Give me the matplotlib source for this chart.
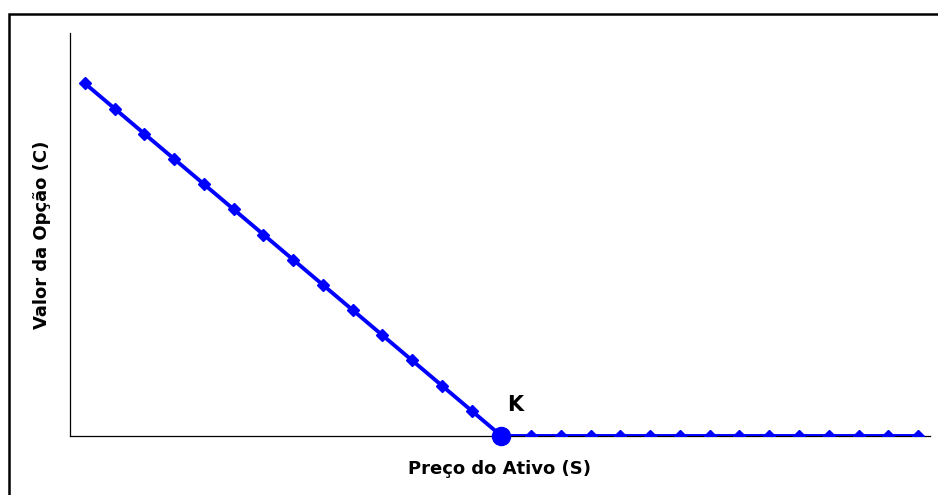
import matplotlib
matplotlib.use("Agg")
import matplotlib.pyplot as plt
from matplotlib.patches import Rectangle

plt.rcParams['font.family'] = ['DejaVu Sans']

# preço do ativo (S) e valor da opção (C)
S = [0, 1, 2, 3, 4, 5, 6, 7, 8, 9, 10, 11, 12, 13, 14,
     15, 16, 17, 18, 19, 20, 21, 22, 23, 24, 25, 26, 27, 28]
C = [14, 13, 12, 11, 10, 9, 8, 7, 6, 5, 4, 3, 2, 1, 0,
     0, 0, 0, 0, 0, 0, 0, 0, 0, 0, 0, 0, 0, 0]
K_S, K_C = 14, 0

fig = plt.figure(figsize=(9.38, 4.95), dpi=100)
ax = fig.add_axes([0.0746, 0.1192, 0.9168, 0.8141])

# moldura (só topo e esquerda visíveis)
fig.patches.append(Rectangle((8.5/938, -0.1), 1.2, 1.1 - 13.5/495,
                             transform=fig.transFigure, fill=False,
                             edgecolor='black', linewidth=1.8))

ax.plot(S, C, color='#0000FF', lw=2.8, marker='D', ms=6.5, zorder=3)
ax.plot([K_S], [K_C], 'o', color='#0000FF', ms=13, zorder=4, clip_on=False)
ax.text(K_S + 0.45, 1.25, 'K', fontsize=15, fontweight='bold', ha='center', va='center')

ax.set_xlim(-0.5, 28.4)
ax.set_ylim(0, 16)
ax.set_xticks([])
ax.set_yticks([])
for side in ['top', 'right']:
    ax.spines[side].set_visible(False)
for side in ['left', 'bottom']:
    ax.spines[side].set_linewidth(0.9)

ax.set_xlabel('Preço do Ativo (S)', fontsize=13, fontweight='bold', labelpad=17)
ax.set_ylabel('Valor da Opção (C)', fontsize=13, fontweight='bold', labelpad=14)

fig.savefig('out.png', dpi=100)
